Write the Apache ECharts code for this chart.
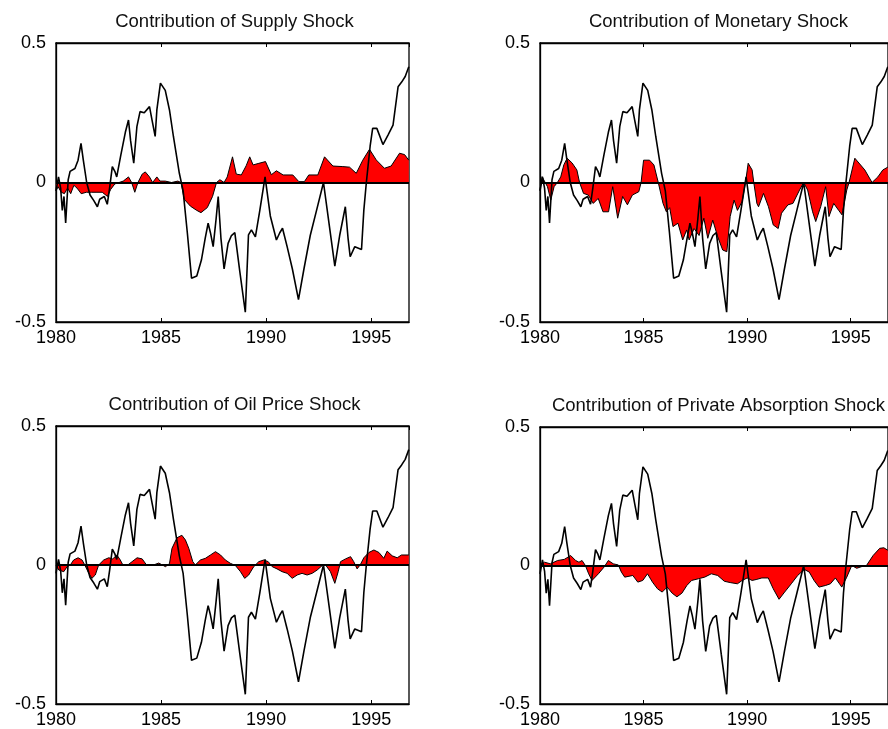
<!DOCTYPE html>
<html>
<head>
<meta charset="utf-8">
<script src="https://cdn.jsdelivr.net/npm/echarts/dist/echarts.min.js"></script>
<style>
html,body{margin:0;padding:0;background:#fff;}
#chart{width:888px;height:729px;}
</style>
</head>
<body>
<div id="chart"></div>
<script>
// ---- Data (year, value) ----
const panelTitles = [
  'Contribution of Supply Shock',
  'Contribution of Monetary Shock',
  'Contribution of Oil Price Shock',
  'Contribution of Private Absorption Shock'
];
const xTicks = [1980, 1985, 1990, 1995];
const yTicks = [-0.5, 0, 0.5];

// Total (black line) common to all panels
const totalLine = [
  [1980.00,-0.03],[1980.12,0.02],[1980.22,-0.02],[1980.30,-0.10],[1980.38,-0.05],[1980.46,-0.145],
  [1980.58,0.01],[1980.67,0.04],[1980.90,0.05],[1981.05,0.08],[1981.19,0.14],[1981.30,0.08],
  [1981.46,0.0],[1981.62,-0.045],[1981.80,-0.065],[1981.97,-0.087],[1982.08,-0.06],[1982.17,-0.065],
  [1982.30,-0.05],[1982.44,-0.078],[1982.55,-0.02],[1982.68,0.057],[1982.80,0.04],[1982.89,0.02],
  [1983.08,0.096],[1983.30,0.18],[1983.45,0.224],[1983.55,0.15],[1983.70,0.069],[1983.85,0.20],
  [1984.00,0.254],[1984.20,0.25],[1984.45,0.272],[1984.58,0.22],[1984.72,0.165],[1984.80,0.26],
  [1984.97,0.356],[1985.20,0.33],[1985.40,0.26],[1985.59,0.164],[1985.87,0.033],[1986.05,-0.03],
  [1986.25,-0.18],[1986.45,-0.343],[1986.70,-0.335],[1986.92,-0.278],[1987.10,-0.20],[1987.24,-0.146],
  [1987.35,-0.18],[1987.48,-0.23],[1987.62,-0.13],[1987.72,-0.05],[1987.85,-0.20],[1988.00,-0.31],
  [1988.19,-0.218],[1988.35,-0.19],[1988.51,-0.18],[1988.75,-0.32],[1989.01,-0.465],[1989.16,-0.188],
  [1989.30,-0.17],[1989.49,-0.195],[1989.70,-0.10],[1989.95,0.02],[1990.20,-0.12],[1990.49,-0.206],
  [1990.65,-0.18],[1990.78,-0.164],[1991.00,-0.23],[1991.25,-0.31],[1991.54,-0.42],[1991.80,-0.31],
  [1992.10,-0.19],[1992.40,-0.10],[1992.73,0.0],[1993.00,-0.15],[1993.27,-0.30],[1993.50,-0.19],
  [1993.77,-0.087],[1993.90,-0.20],[1994.00,-0.266],[1994.22,-0.23],[1994.54,-0.24],[1994.65,-0.10],
  [1994.77,0.0],[1994.95,0.13],[1995.07,0.194],[1995.27,0.194],[1995.56,0.136],[1995.80,0.17],
  [1996.04,0.206],[1996.28,0.343],[1996.45,0.36],[1996.62,0.38],[1996.79,0.415]
];

const supplyShock = [
  [1980.00,-0.03],[1980.10,-0.015],[1980.25,-0.035],[1980.40,-0.04],[1980.55,-0.02],[1980.70,-0.04],
  [1980.85,-0.01],[1981.00,-0.02],[1981.20,-0.04],[1981.45,-0.035],[1981.70,-0.035],[1981.95,-0.035],
  [1982.20,-0.035],[1982.45,-0.05],[1982.60,-0.025],[1982.80,-0.005],[1983.00,0.0],[1983.20,0.005],
  [1983.45,0.02],[1983.60,0.0],[1983.75,-0.035],[1983.90,0.0],[1984.10,0.03],[1984.25,0.038],
  [1984.45,0.02],[1984.60,0.0],[1984.80,0.02],[1984.95,0.005],[1985.20,0.005],[1985.50,0.0],
  [1985.80,0.005],[1985.95,0.0],[1986.10,-0.06],[1986.40,-0.085],[1986.70,-0.10],[1986.90,-0.108],
  [1987.20,-0.09],[1987.45,-0.05],[1987.64,0.0],[1987.80,0.01],[1988.00,0.0],[1988.15,0.02],
  [1988.40,0.092],[1988.58,0.03],[1988.82,0.027],[1989.05,0.06],[1989.22,0.092],[1989.38,0.063],
  [1989.62,0.068],[1989.97,0.075],[1990.25,0.028],[1990.49,0.042],[1990.81,0.027],[1991.27,0.027],
  [1991.56,0.003],[1991.82,0.003],[1992.03,0.027],[1992.46,0.027],[1992.78,0.092],[1993.18,0.059],
  [1993.65,0.057],[1993.97,0.055],[1994.29,0.033],[1994.60,0.08],[1994.92,0.119],[1995.24,0.081],
  [1995.63,0.051],[1995.95,0.059],[1996.35,0.105],[1996.59,0.10],[1996.79,0.08]
];

const monetaryShock = [
  [1980.00,-0.027],[1980.10,0.021],[1980.25,0.0],[1980.36,-0.015],[1980.52,-0.063],[1980.68,-0.015],
  [1980.84,0.0],[1981.00,0.02],[1981.15,0.063],[1981.31,0.087],[1981.55,0.07],[1981.78,0.045],
  [1981.91,0.0],[1982.10,-0.039],[1982.33,-0.045],[1982.57,-0.075],[1982.81,-0.057],[1983.04,-0.105],
  [1983.31,-0.105],[1983.51,-0.015],[1983.75,-0.128],[1983.99,-0.05],[1984.22,-0.08],[1984.46,-0.045],
  [1984.77,-0.033],[1984.88,0.0],[1985.00,0.08],[1985.29,0.08],[1985.50,0.063],[1985.71,0.0],
  [1985.94,-0.075],[1986.10,-0.105],[1986.26,-0.09],[1986.42,-0.158],[1986.66,-0.146],[1986.89,-0.206],
  [1987.08,-0.17],[1987.20,-0.206],[1987.44,-0.165],[1987.68,-0.19],[1987.91,-0.128],[1988.10,-0.20],
  [1988.19,-0.195],[1988.34,-0.135],[1988.58,-0.195],[1988.82,-0.242],[1989.02,-0.248],[1989.18,-0.122],
  [1989.37,-0.063],[1989.53,-0.10],[1989.76,-0.068],[1989.92,0.0],[1990.05,0.069],[1990.24,0.045],
  [1990.32,0.0],[1990.47,-0.075],[1990.55,-0.087],[1990.79,-0.039],[1991.03,-0.087],[1991.26,-0.152],
  [1991.50,-0.165],[1991.66,-0.11],[1991.97,-0.08],[1992.21,-0.075],[1992.53,-0.027],[1992.73,0.0],
  [1992.92,-0.027],[1993.16,-0.105],[1993.31,-0.14],[1993.55,-0.087],[1993.79,-0.015],[1993.95,-0.122],
  [1994.18,-0.075],[1994.42,-0.10],[1994.58,-0.116],[1994.81,-0.027],[1994.92,0.0],[1995.20,0.087],
  [1995.68,0.045],[1996.03,0.0],[1996.31,0.02],[1996.55,0.045],[1996.79,0.055]
];

const oilPriceShock = [
  [1980.00,0.0],[1980.13,-0.018],[1980.37,-0.024],[1980.53,-0.006],[1980.68,0.0],[1980.84,0.018],
  [1981.05,0.026],[1981.24,0.018],[1981.37,0.0],[1981.56,-0.03],[1981.71,-0.048],[1981.87,-0.036],
  [1982.03,0.0],[1982.27,0.018],[1982.51,0.026],[1982.70,0.022],[1982.90,0.036],[1983.06,0.018],
  [1983.17,0.002],[1983.38,-0.002],[1983.62,0.012],[1983.86,0.026],[1984.10,0.022],[1984.29,0.002],
  [1984.57,-0.002],[1984.89,0.007],[1985.21,-0.006],[1985.40,0.005],[1985.52,0.06],[1985.76,0.098],
  [1985.99,0.107],[1986.16,0.09],[1986.32,0.06],[1986.51,0.012],[1986.63,0.0],[1986.87,0.018],
  [1987.11,0.024],[1987.35,0.036],[1987.59,0.048],[1987.83,0.036],[1988.06,0.018],[1988.30,0.006],
  [1988.54,-0.002],[1988.78,-0.024],[1988.98,-0.048],[1989.17,-0.036],[1989.41,-0.006],[1989.65,0.012],
  [1989.89,0.018],[1990.10,0.012],[1990.29,-0.006],[1990.52,-0.014],[1990.76,-0.024],[1991.00,-0.03],
  [1991.24,-0.048],[1991.48,-0.036],[1991.71,-0.03],[1991.95,-0.036],[1992.19,-0.03],[1992.43,-0.018],
  [1992.67,-0.002],[1992.83,0.0],[1993.06,-0.024],[1993.27,-0.066],[1993.43,-0.024],[1993.54,0.012],
  [1993.78,0.022],[1994.02,0.03],[1994.17,0.012],[1994.33,-0.014],[1994.49,0.002],[1994.65,0.026],
  [1994.89,0.045],[1995.13,0.054],[1995.37,0.045],[1995.60,0.024],[1995.76,0.05],[1996.00,0.033],
  [1996.24,0.026],[1996.44,0.036],[1996.79,0.036]
];

const privateAbsorptionShock = [
  [1980.00,0.0],[1980.22,0.012],[1980.50,0.006],[1980.85,0.018],[1981.17,0.022],[1981.48,0.036],
  [1981.72,0.018],[1981.88,0.012],[1982.03,0.018],[1982.19,0.0],[1982.35,-0.03],[1982.51,-0.054],
  [1982.82,-0.03],[1983.09,-0.006],[1983.30,0.018],[1983.54,0.006],[1983.78,0.002],[1983.93,-0.024],
  [1984.09,-0.042],[1984.48,-0.036],[1984.72,-0.06],[1984.96,-0.054],[1985.19,-0.03],[1985.43,-0.06],
  [1985.67,-0.084],[1985.90,-0.096],[1986.14,-0.078],[1986.38,-0.10],[1986.61,-0.113],[1986.85,-0.10],
  [1987.09,-0.072],[1987.32,-0.054],[1987.64,-0.048],[1987.95,-0.042],[1988.27,-0.03],[1988.58,-0.036],
  [1988.90,-0.057],[1989.21,-0.062],[1989.53,-0.066],[1989.76,-0.054],[1990.00,-0.045],[1990.24,-0.054],
  [1990.47,-0.05],[1990.71,-0.045],[1991.02,-0.045],[1991.26,-0.084],[1991.54,-0.122],[1991.81,-0.096],
  [1992.13,-0.066],[1992.44,-0.036],[1992.76,-0.014],[1993.00,-0.024],[1993.23,-0.054],[1993.47,-0.078],
  [1993.79,-0.072],[1994.02,-0.066],[1994.26,-0.045],[1994.57,-0.078],[1994.81,-0.042],[1995.05,0.0],
  [1995.29,-0.01],[1995.53,-0.004],[1995.76,0.0],[1996.08,0.036],[1996.40,0.062],[1996.60,0.064],
  [1996.79,0.055]
];

const shockSeries = [supplyShock, monetaryShock, oilPriceShock, privateAbsorptionShock];

// ---- Layout ----
const panelBoxes = [
  {left: 56,  top: 43,  width: 353, height: 279},
  {left: 540, top: 43,  width: 353, height: 279},
  {left: 56,  top: 426, width: 353, height: 279},
  {left: 540, top: 427, width: 353, height: 279}
];
const xMin = 1980, xMax = 1996.8;
const font = 'Liberation Sans, Arial, sans-serif';

const grids = [], xAxes = [], yAxes = [], series = [], titles = [];
panelBoxes.forEach((b, i) => {
  grids.push({left: b.left, top: b.top, width: b.width, height: b.height,
    show: true, borderColor: '#000', borderWidth: 1.3, backgroundColor: '#fff', containLabel: false});
  titles.push({text: panelTitles[i], left: b.left + b.width / 2 + 2, top: b.top - 31, textAlign: 'center',
    padding: 0,
    textStyle: {fontFamily: font, fontSize: 18.5, fontWeight: 'normal', color: '#111'}});
  xAxes.push({gridIndex: i, type: 'value', min: xMin, max: xMax, interval: 5, position: 'bottom',
    axisLine: {show: true, onZero: false, lineStyle: {color: '#000', width: 1.3}},
    axisTick: {show: true, inside: true, length: 4, lineStyle: {color: '#000'}},
    axisLabel: {color: '#000', fontFamily: font, fontSize: 18, margin: 7, showMaxLabel: false,
      formatter: v => (xTicks.indexOf(v) >= 0 ? String(v) : '')},
    splitLine: {show: false}});
  xAxes.push({gridIndex: i, type: 'value', min: xMin, max: xMax, interval: 5, position: 'top',
    axisLine: {show: true, onZero: false, lineStyle: {color: '#000', width: 1.3}},
    axisTick: {show: true, inside: true, length: 4, lineStyle: {color: '#000'}},
    axisLabel: {show: false}, splitLine: {show: false}});
  yAxes.push({gridIndex: i, type: 'value', min: -0.5, max: 0.5, interval: 0.5,
    axisLine: {show: true, onZero: false, lineStyle: {color: '#000', width: 1.3}},
    axisTick: {show: false},
    axisLabel: {color: '#000', fontFamily: font, fontSize: 18, margin: 10,
      formatter: v => (yTicks.indexOf(v) >= 0 ? (v === 0 ? '0' : String(v)) : '')},
    splitLine: {show: false}});
  series.push({type: 'line', xAxisIndex: i * 2, yAxisIndex: i, data: shockSeries[i],
    showSymbol: false, symbol: 'none', z: 2,
    lineStyle: {color: '#000', width: 1},
    areaStyle: {color: '#ff0000', opacity: 1}});
  series.push({type: 'line', xAxisIndex: i * 2, yAxisIndex: i, data: totalLine,
    showSymbol: false, symbol: 'none', z: 3,
    lineStyle: {color: '#000', width: 1.6},
    markLine: {silent: true, symbol: 'none', animation: false,
      label: {show: false},
      lineStyle: {color: '#000', width: 1.8, type: 'solid'},
      data: [{yAxis: 0}]}});
});

const chart = echarts.init(document.getElementById('chart'), null, {renderer: 'canvas'});
chart.setOption({
  animation: false,
  backgroundColor: '#fff',
  title: titles,
  grid: grids,
  xAxis: xAxes,
  yAxis: yAxes,
  series: series
});
</script>
</body>
</html>
